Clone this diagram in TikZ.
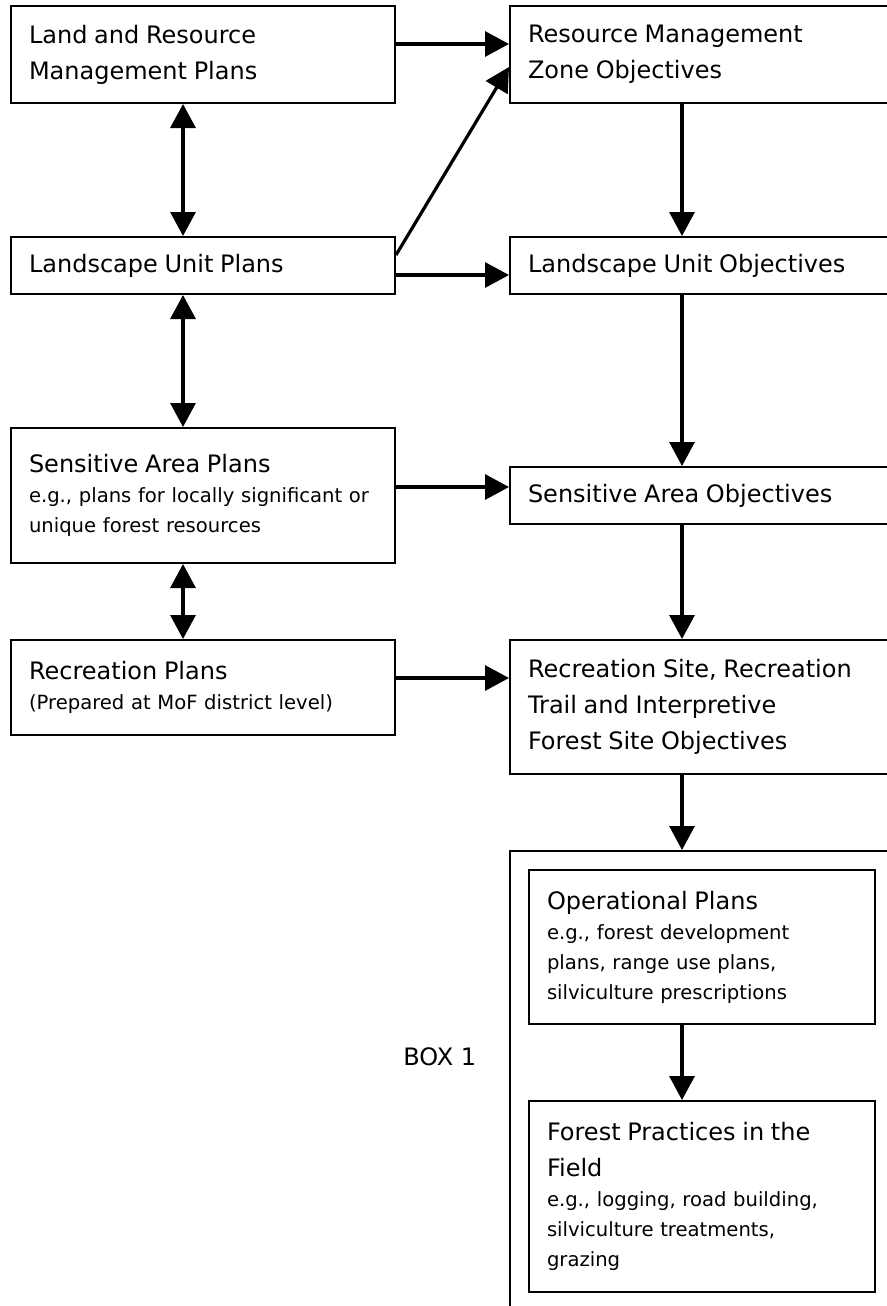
\documentclass[tikz,border=0pt]{standalone}
\usepackage{fontspec}
\setmainfont{DejaVu Sans}
\usetikzlibrary{arrows.meta}

\newcommand{\boxhead}{\fontsize{12}{18}\selectfont}
\newcommand{\boxnote}{\fontsize{9.8}{15}\selectfont}

\begin{document}
\begin{tikzpicture}[x=0.5pt, y=-0.5pt,
      plan/.style={draw, line width=1pt, anchor=north west, align=left, inner xsep=9pt, inner ysep=0pt, minimum width=192pt, text width=174pt},
      objective/.style={plan, minimum width=220pt, text width=202pt},
      practice/.style={plan, minimum width=173pt, text width=155pt},
      flow/.style={line width=1.6pt, -{Triangle[length=12pt,width=12.5pt]}},
      twoway/.style={line width=1.6pt, {Triangle[length=12pt,width=12.5pt]}-{Triangle[length=12pt,width=12.5pt]}}]
      % 11 nodes
      \useasboundingbox (0,0) rectangle (887,1306);
      \clip (0,0) rectangle (887,1306);
      \coordinate (lc) at (183,0);
      \coordinate (rc) at (682,0);
      \node[name=p1, plan, minimum height=48.5pt] at (10,5) {\boxhead Land and Resource\\ Management Plans\par};
      \node[name=p2, plan, minimum height=28.5pt] at (10,236) {\boxhead Landscape Unit Plans\par};
      \node[name=p3, plan, minimum height=67.5pt] at (10,427) {{\boxhead Sensitive Area Plans\par}\boxnote e.g., plans for locally significant or\\ unique forest resources\par};
      \node[name=p4, plan, minimum height=47.5pt] at (10,639) {{\boxhead Recreation Plans\par}\boxnote (Prepared at MoF district level)\par};
      \node[name=o1, objective, minimum height=48.5pt] at (509,5) {\boxhead Resource Management\\ Zone Objectives\par};
      \node[name=o2, objective, minimum height=28.5pt] at (509,236) {\boxhead Landscape Unit Objectives\par};
      \node[name=o3, objective, minimum height=28.5pt] at (509,466) {\boxhead Sensitive Area Objectives\par};
      \node[name=o4, objective, minimum height=67pt] at (509,639) {\boxhead Recreation Site, Recreation\\ Trail and Interpretive\\ Forest Site Objectives\par};
      \node[name=b1, draw, line width=1pt, anchor=north west, minimum width=220pt, minimum height=250pt] at (509,850) {};
      \node[name=b1l, anchor=west, inner sep=0pt] at (403,1057) {\boxhead BOX 1};
      \node[name=q1, practice, minimum height=77pt] at (528,869) {{\boxhead Operational Plans\par}\boxnote e.g., forest development\\ plans, range use plans,\\ silviculture prescriptions\par};
      \node[name=q2, practice, minimum height=95.5pt] at (528,1100) {{\boxhead Forest Practices in the\\ Field\par}\boxnote e.g., logging, road building,\\ silviculture treatments,\\ grazing\par};
      \draw[twoway] (p1.south -| lc) -- (p2.north -| lc);
      \draw[twoway] (p2.south -| lc) -- (p3.north -| lc);
      \draw[twoway] (p3.south -| lc) -- (p4.north -| lc);
      \draw[flow] (o1.south -| rc) -- (o2.north -| rc);
      \draw[flow] (o2.south -| rc) -- (o3.north -| rc);
      \draw[flow] (o3.south -| rc) -- (o4.north -| rc);
      \draw[flow] (o4.south -| rc) -- (b1.north -| rc);
      \draw[flow] (q1.south -| rc) -- (q2.north -| rc);
      \draw[flow] ([yshift=5.25pt]p1.east) -- ([yshift=5.25pt]o1.west |- p1.east);
      \draw[flow] ([yshift=-4.75pt]p2.east) -- ([yshift=-4.75pt]o2.west |- p2.east);
      \draw[flow] ([yshift=4.25pt]p3.east) -- ([yshift=4.25pt]o3.west |- p3.east);
      \draw[flow] ([yshift=4.75pt]p4.east) -- ([yshift=4.75pt]o4.west |- p4.east);
      \draw[flow] ([yshift=-9.5pt]p2.north east) -- ([yshift=-31pt]o1.north west);
   \end{tikzpicture}
\end{document}
